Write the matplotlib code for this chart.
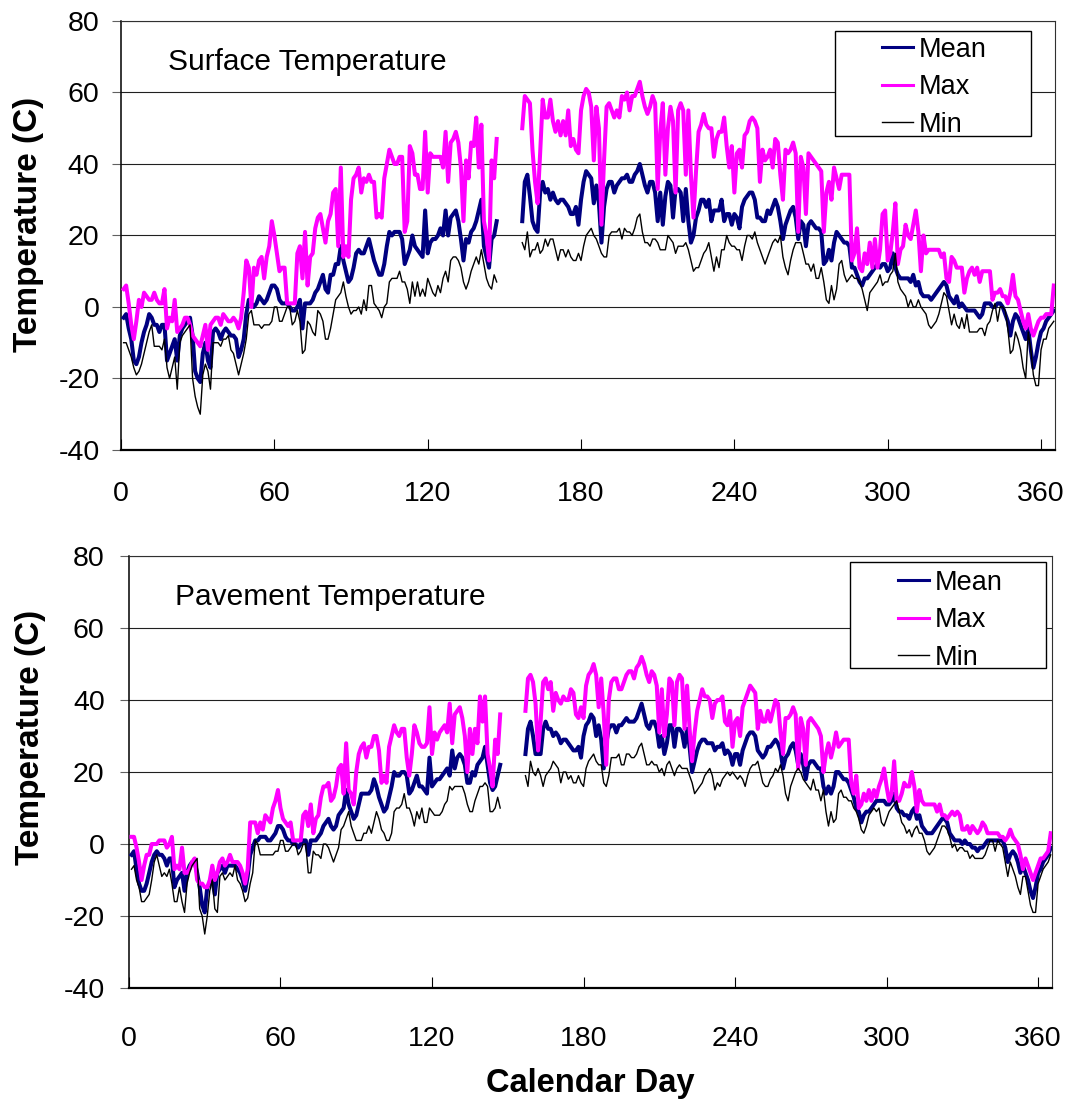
import numpy as np
import matplotlib.pyplot as plt
from matplotlib.lines import Line2D
from matplotlib.patches import Rectangle

plt.rcParams['font.family'] = ['Liberation Sans', 'DejaVu Sans']
plt.rcParams['axes.unicode_minus'] = False

# Daily temperatures (C). Part A covers days 1-147, part B days 157-365;
# days 148-156 have no record.
DAYS = np.arange(1, 366)

surf_max_a = [
    5, 6, 1, -5, -9, -4, 2, 0, 4, 3,
    2, 2, 4, 2, 1, 1, 5, -6, -3, -4,
    2, -7, -6, -5, -3, -3, -5, -8, -9, -10,
    -11, -8, -5, -12, -5, -4, -3, -3, -5, -2,
    -3, -4, -4, -3, -4, -6, -3, 4, 13, 11,
    0, 11, 9, 13, 14, 8, 14, 17, 24, 20,
    15, 10, 11, 11, 1, 1, 1, 1, 15, 17,
    8, 21, 6, 14, 15, 22, 25, 26, 22, 18,
    24, 26, 32, 33, 17, 39, 14, 17, 14, 30,
    36, 37, 39, 32, 36, 35, 37, 35, 35, 25,
    26, 25, 36, 40, 44, 42, 40, 40, 42, 42,
    21, 24, 45, 43, 37, 37, 33, 33, 49, 32,
    43, 42, 42, 42, 42, 39, 49, 35, 46, 47,
    49, 46, 39, 24, 41, 36, 46, 45, 53, 39,
    51, 24, 20, 13, 41, 36, 47]
surf_max_b = [
    50, 59, 58, 57, 44, 35, 29, 43, 58, 53,
    53, 58, 52, 49, 52, 48, 52, 48, 55, 45,
    47, 44, 43, 55, 59, 61, 60, 56, 41, 56,
    50, 23, 41, 56, 57, 55, 53, 55, 53, 59,
    58, 60, 55, 59, 59, 61, 63, 59, 56, 54,
    56, 59, 57, 33, 49, 57, 37, 50, 56, 52,
    32, 55, 57, 55, 37, 55, 37, 25, 38, 49,
    51, 54, 51, 50, 50, 42, 47, 49, 49, 53,
    45, 39, 45, 32, 43, 44, 39, 48, 49, 52,
    53, 52, 50, 35, 44, 41, 42, 44, 39, 47,
    46, 37, 30, 44, 43, 44, 46, 43, 21, 42,
    39, 26, 43, 42, 41, 40, 39, 38, 21, 32,
    35, 30, 39, 36, 33, 37, 37, 37, 37, 13,
    15, 22, 11, 10, 15, 12, 18, 11, 19, 11,
    16, 26, 27, 13, 15, 21, 29, 12, 16, 17,
    23, 20, 19, 23, 27, 21, 10, 20, 15, 16,
    16, 16, 16, 16, 14, 15, 8, 7, 14, 13,
    11, 11, 11, 4, 8, 10, 11, 9, 11, 7,
    10, 10, 10, 10, 2, 4, 4, 5, 3, 3,
    1, 4, 9, 3, 2, -1, -4, -6, -2, -6,
    -8, -6, -4, -3, -3, -2, -2, -2, 6]

surf_mean_a = [
    -3, -2, -6, -9, -15, -16, -14, -10, -7, -5,
    -2, -3, -5, -5, -7, -5, -5, -15, -13, -11,
    -9, -15, -8, -6, -5, -4, -3, -8, -18, -20,
    -21, -13, -10, -15, -17, -7, -6, -7, -9, -7,
    -6, -7, -8, -8, -9, -14, -12, -9, -2, 2,
    1, 0, 1, 3, 2, 1, 2, 4, 6, 6,
    5, 2, 1, 1, 1, 0, -1, -1, 0, 2,
    -6, 1, 1, 1, 2, 4, 5, 7, 9, 5,
    4, 9, 9, 12, 12, 17, 13, 10, 7, 8,
    11, 15, 16, 15, 15, 17, 19, 16, 13, 11,
    9, 9, 12, 17, 21, 20, 21, 21, 21, 19,
    12, 14, 16, 20, 17, 16, 15, 14, 27, 15,
    18, 19, 19, 20, 22, 20, 27, 20, 25, 26,
    27, 24, 19, 13, 19, 18, 21, 22, 24, 27,
    30, 17, 14, 11, 19, 20, 24]
surf_mean_b = [
    24, 35, 37, 31, 24, 22, 21, 32, 35, 32,
    33, 30, 32, 30, 29, 30, 30, 29, 28, 26,
    26, 28, 23, 30, 35, 38, 37, 36, 29, 34,
    29, 18, 28, 33, 35, 35, 32, 34, 35, 36,
    36, 37, 35, 35, 37, 38, 40, 37, 34, 32,
    35, 35, 32, 24, 32, 23, 31, 35, 34, 25,
    33, 33, 32, 24, 33, 24, 18, 20, 25, 27,
    30, 30, 28, 30, 24, 27, 27, 27, 30, 24,
    26, 26, 23, 26, 25, 22, 28, 30, 31, 32,
    32, 30, 25, 25, 24, 24, 27, 26, 28, 30,
    28, 24, 19, 23, 25, 27, 28, 25, 19, 24,
    23, 17, 23, 24, 23, 22, 22, 21, 12, 13,
    16, 13, 18, 21, 20, 19, 18, 18, 17, 11,
    11, 9, 7, 6, 8, 8, 9, 10, 11, 12,
    11, 12, 12, 10, 11, 15, 11, 9, 8, 8,
    8, 8, 7, 9, 6, 7, 4, 3, 3, 3,
    2, 3, 4, 5, 6, 7, 6, 3, 2, 1,
    3, 0, 1, 0, -1, -1, -1, -1, -2, -3,
    -2, 1, 1, 1, 0, 0, 1, 1, 0, -2,
    -4, -8, -4, -2, -3, -5, -7, -9, -6, -12,
    -17, -14, -10, -7, -6, -4, -3, -2, -1]

surf_min_a = [
    -10, -10, -12, -14, -17, -19, -18, -16, -13, -10,
    -7, -5, -11, -11, -11, -12, -9, -17, -20, -17,
    -14, -23, -10, -8, -7, -6, -5, -20, -25, -28,
    -30, -19, -16, -18, -23, -10, -10, -10, -11, -9,
    -9, -8, -12, -13, -16, -19, -16, -13, -9, -2,
    -1, -5, -5, -5, -6, -5, -5, -5, -4, 0,
    0, -4, -4, -2, 0, 0, -5, -4, -1, -4,
    -13, -12, -4, -5, -7, -8, -1, -2, -4, -9,
    -9, -6, -2, 2, 3, 4, 7, 3, 0, -2,
    -1, -1, 0, -2, 2, -1, 6, 6, 1, 0,
    -1, -3, 0, 1, 7, 8, 8, 8, 10, 7,
    7, 5, 1, 7, 3, 7, 3, 5, 3, 8,
    6, 4, 3, 6, 4, 8, 10, 7, 13, 14,
    14, 13, 11, 7, 5, 7, 10, 12, 14, 12,
    16, 12, 8, 6, 5, 9, 7]
surf_min_b = [
    18, 16, 21, 14, 16, 16, 18, 15, 16, 19,
    17, 19, 19, 16, 13, 16, 16, 14, 16, 14,
    13, 13, 15, 13, 17, 20, 21, 22, 20, 19,
    17, 15, 14, 14, 20, 21, 21, 21, 22, 19,
    22, 21, 21, 20, 22, 25, 26, 21, 18, 18,
    17, 19, 19, 18, 16, 16, 16, 20, 19, 18,
    15, 17, 17, 17, 18, 16, 13, 10, 11, 11,
    13, 15, 16, 18, 14, 10, 14, 11, 16, 16,
    20, 18, 17, 17, 16, 16, 13, 17, 20, 20,
    19, 21, 18, 16, 14, 12, 14, 16, 18, 19,
    18, 20, 14, 11, 9, 13, 16, 18, 18, 18,
    15, 12, 12, 10, 12, 8, 8, 11, 7, 2,
    1, 6, 2, 5, 12, 13, 9, 7, 8, 9,
    8, 8, 7, 5, 2, -1, 4, 5, 6, 7,
    9, 6, 7, 7, 9, 10, 15, 7, 5, 4,
    3, 0, 2, 0, 0, 2, 0, -1, -2, -5,
    -6, -5, -4, -2, 1, 4, 3, -1, -5, -2,
    -5, -6, -3, -6, -2, -7, -7, -7, -7, -6,
    -6, -8, -5, -4, -1, 1, -4, 0, 0, -1,
    -6, -13, -12, -7, -9, -12, -17, -20, -7, -12,
    -19, -22, -22, -12, -9, -9, -6, -5, -4]

pave_max_a = [
    2, 2, -1, -5, -10, -6, -3, -3, 0, 0,
    0, 1, 1, 1, -1, 0, 2, -7, -6, -7,
    -1, -8, -8, -7, -5, -4, -10, -11, -11, -12,
    -12, -10, -6, -10, -8, -5, -4, -6, -5, -3,
    -5, -5, -5, -6, -8, -11, -7, 6, 6, 6,
    3, 6, 4, 8, 7, 6, 10, 12, 15, 10,
    7, 6, 5, 6, 1, 1, 1, 1, 8, 9,
    5, 11, 3, 7, 8, 13, 16, 16, 17, 12,
    13, 16, 21, 22, 14, 28, 15, 14, 11, 20,
    25, 27, 28, 24, 27, 27, 30, 30, 26, 17,
    19, 17, 27, 30, 33, 31, 30, 32, 32, 24,
    19, 25, 33, 31, 28, 27, 27, 28, 38, 25,
    31, 29, 31, 32, 33, 31, 39, 28, 36, 37,
    38, 35, 30, 20, 32, 25, 32, 28, 41, 34,
    41, 25, 21, 16, 29, 25, 36]
pave_max_b = [
    37, 46, 47, 45, 39, 26, 34, 45, 46, 43,
    45, 37, 42, 40, 39, 41, 40, 40, 43, 42,
    36, 35, 38, 35, 44, 47, 48, 50, 47, 38,
    46, 36, 22, 40, 45, 46, 46, 43, 43, 45,
    47, 48, 48, 46, 49, 50, 52, 50, 47, 45,
    48, 47, 44, 31, 43, 30, 36, 46, 45, 33,
    45, 47, 46, 32, 44, 32, 23, 31, 37, 40,
    43, 41, 41, 40, 35, 39, 40, 40, 41, 34,
    33, 37, 27, 34, 35, 30, 38, 40, 42, 44,
    43, 42, 32, 37, 34, 34, 37, 34, 37, 40,
    39, 31, 25, 35, 35, 36, 38, 36, 21, 35,
    32, 22, 34, 35, 34, 33, 32, 30, 20, 25,
    28, 24, 27, 31, 27, 28, 29, 29, 29, 17,
    14, 19, 10, 11, 14, 12, 15, 12, 15, 13,
    16, 18, 21, 16, 12, 14, 23, 12, 12, 14,
    17, 16, 16, 20, 16, 9, 15, 12, 11, 11,
    11, 11, 11, 9, 11, 8, 8, 7, 8, 9,
    8, 9, 8, 4, 4, 5, 3, 5, 4, 3,
    4, 6, 5, 3, 3, 3, 3, 3, 2, 2,
    1, 2, 4, 2, 1, 0, -3, -7, -4, -6,
    -8, -10, -8, -6, -4, -4, -3, -2, 3]

pave_mean_a = [
    -3, -2, -7, -11, -13, -13, -11, -8, -5, -3,
    -2, -3, -3, -4, -6, -4, -4, -12, -10, -9,
    -8, -13, -8, -6, -5, -5, -8, -12, -17, -19,
    -12, -11, -10, -14, -8, -7, -6, -8, -6, -6,
    -6, -6, -7, -8, -10, -13, -9, -3, -1, 1,
    1, 2, 2, 2, 1, 1, 2, 3, 5, 5,
    4, 2, 1, 1, 0, 0, -1, 0, 1, 1,
    -3, 1, 1, 1, 2, 3, 5, 6, 7, 5,
    4, 5, 8, 9, 10, 15, 11, 9, 7, 8,
    11, 14, 14, 14, 14, 15, 18, 16, 13, 11,
    9, 10, 13, 16, 20, 19, 19, 20, 20, 19,
    14, 15, 17, 19, 16, 16, 15, 14, 24, 16,
    17, 18, 18, 19, 20, 21, 19, 26, 21, 24,
    25, 24, 22, 17, 17, 20, 19, 22, 23, 24,
    27, 22, 17, 15, 16, 19, 22]
pave_mean_b = [
    25, 32, 34, 30, 25, 25, 25, 32, 34, 32,
    32, 30, 31, 30, 28, 29, 29, 28, 27, 26,
    26, 27, 24, 30, 33, 34, 36, 35, 30, 33,
    29, 21, 28, 32, 33, 33, 31, 33, 33, 34,
    35, 34, 34, 34, 35, 37, 39, 36, 33, 32,
    34, 34, 32, 27, 30, 25, 28, 33, 33, 27,
    32, 32, 31, 27, 32, 27, 20, 23, 26, 28,
    29, 29, 28, 28, 28, 26, 27, 27, 28, 25,
    26, 25, 22, 25, 25, 22, 26, 28, 30, 31,
    31, 30, 26, 25, 24, 25, 27, 27, 28, 29,
    28, 26, 21, 24, 25, 27, 28, 26, 22, 25,
    22, 18, 22, 23, 23, 22, 21, 21, 16, 14,
    16, 14, 16, 20, 20, 19, 18, 18, 17, 15,
    13, 10, 9, 6, 8, 9, 9, 10, 11, 12,
    12, 12, 12, 11, 11, 12, 14, 10, 9, 9,
    8, 8, 7, 9, 10, 7, 8, 5, 4, 3,
    3, 3, 4, 5, 6, 7, 7, 6, 3, 2,
    1, 1, 1, 0, 1, 0, 0, -1, -1, -2,
    -1, -1, 0, 1, 1, 1, 1, 1, 1, 1,
    -1, -5, -3, -2, -3, -5, -8, -6, -8, -10,
    -13, -15, -12, -8, -7, -5, -4, -3, -1]

pave_min_a = [
    -7, -6, -10, -12, -16, -16, -15, -14, -10, -5,
    -3, -6, -9, -8, -9, -7, -11, -16, -16, -12,
    -16, -19, -11, -8, -6, -5, -4, -18, -20, -25,
    -20, -13, -10, -18, -19, -9, -8, -10, -9, -8,
    -9, -6, -10, -11, -13, -16, -15, -11, -8, 1,
    0, -3, -3, -3, -3, -3, -3, -2, -2, 1,
    1, -2, -2, -1, 0, 0, -3, -2, 0, 0,
    -8, -8, -2, -3, -3, -4, 0, 0, -1, -3,
    -5, -3, -1, 4, 5, 7, 9, 5, 3, 1,
    1, 1, 3, 3, 5, 3, 6, 9, 7, 4,
    3, 1, 1, 3, 9, 10, 10, 11, 14, 10,
    10, 8, 5, 9, 7, 10, 6, 6, 10, 9,
    8, 8, 8, 9, 11, 12, 16, 15, 16, 16,
    16, 16, 14, 11, 9, 9, 12, 14, 16, 16,
    17, 16, 9, 9, 10, 13, 10]
pave_min_b = [
    19, 16, 23, 20, 19, 21, 19, 16, 19, 20,
    21, 23, 22, 21, 17, 20, 20, 18, 19, 17,
    17, 19, 17, 16, 21, 23, 24, 25, 23, 22,
    22, 17, 16, 19, 24, 24, 24, 25, 22, 22,
    25, 25, 24, 24, 25, 27, 28, 25, 22, 22,
    23, 22, 22, 20, 21, 19, 22, 23, 21, 19,
    21, 22, 21, 21, 21, 19, 17, 14, 15, 16,
    17, 19, 20, 21, 19, 15, 17, 16, 18, 19,
    20, 19, 20, 19, 18, 19, 18, 16, 19, 21,
    22, 22, 23, 20, 17, 16, 16, 18, 19, 21,
    20, 22, 19, 14, 12, 16, 18, 20, 21, 20,
    18, 17, 16, 15, 18, 15, 15, 12, 15, 9,
    5, 9, 6, 7, 14, 15, 13, 13, 12, 12,
    10, 9, 7, 4, 3, 5, 8, 9, 10, 9,
    10, 6, 5, 7, 9, 10, 11, 12, 9, 6,
    5, 3, 4, 2, 4, 5, 3, 3, 1, -2,
    -3, -2, -1, 1, 3, 5, 5, 4, 2, -1,
    0, -2, -1, -1, -2, -2, -4, -3, -4, -4,
    -4, -4, -3, -1, 1, 1, -2, 1, 0, -1,
    -5, -9, -5, -7, -9, -12, -14, -9, -9, -13,
    -17, -19, -19, -11, -9, -7, -6, -5, -3]

SERIES_LABELS = ['Mean', 'Max', 'Min']
SERIES_COLORS = ['#000080', '#FF00FF', '#000000']
SERIES_WIDTHS = [2.9, 2.9, 1.0]


def join_year(part_a, part_b):
    assert len(part_a) == 147 and len(part_b) == 209
    gap = [np.nan] * 9
    return np.array(part_a + gap + part_b, dtype=float)


def draw_panel(ax, title, series, legend_box, legend_anchor, xpad, ypad):
    for vals, lab, col, lw in zip(series, SERIES_LABELS, SERIES_COLORS, SERIES_WIDTHS):
        ax.plot(DAYS, vals, color=col, lw=lw, label=lab, zorder=3)

    ax.set_xlim(0, 365.5)
    ax.set_ylim(-40, 80)
    ax.set_xticks(range(0, 361, 60))
    ax.set_yticks(range(-40, 81, 20))
    ax.yaxis.grid(True, color='#202020', lw=0.8)
    ax.set_axisbelow(True)

    ax.tick_params(axis='x', direction='in', length=8, width=0.8,
                   labelsize=20.5, pad=xpad)
    ax.tick_params(axis='y', direction='out', length=6.5, width=0.8,
                   color='#606060', labelsize=20.5, pad=ypad)
    for side in ('top', 'right'):
        ax.spines[side].set_color('#303030')
        ax.spines[side].set_linewidth(0.8)
    ax.spines['left'].set_linewidth(1.1)
    ax.spines['bottom'].set_linewidth(1.6)

    ax.set_ylabel('Temperature (C)', fontsize=24, fontweight='bold')
    ax.text(0.05, 0.905, title, transform=ax.transAxes, fontsize=21.5,
            va='center', ha='left')

    # legend: a plain boxed key drawn over the grid
    bx, by, bw, bh = legend_box
    ax.add_patch(Rectangle((bx, by), bw, bh, transform=ax.transAxes,
                           facecolor='white', edgecolor='black', lw=1.0,
                           zorder=5))
    handles = [Line2D([], [], color=c, lw=w)
               for c, w in zip(SERIES_COLORS, [2.2, 2.2, 1.0])]
    leg = ax.legend(handles, SERIES_LABELS, loc='upper left',
                    bbox_to_anchor=legend_anchor, frameon=False,
                    fontsize=19.5, handlelength=1.15, handletextpad=0.2,
                    labelspacing=0.42, borderpad=0, borderaxespad=0)
    leg.set_zorder(6)


fig = plt.figure(figsize=(10.73, 11.11), dpi=100)
ax_top = fig.add_axes([0.1128, 0.595, 0.8705, 0.3861])
ax_bot = fig.add_axes([0.1202, 0.1107, 0.8602, 0.3888])

draw_panel(ax_top, 'Surface Temperature',
           [join_year(surf_mean_a, surf_mean_b),
            join_year(surf_max_a, surf_max_b),
            join_year(surf_min_a, surf_min_b)],
           (0.7645, 0.732, 0.2099, 0.2448), (0.815, 0.963), 22, 9)
ax_top.yaxis.set_label_coords(-0.082, 0.525)

draw_panel(ax_bot, 'Pavement Temperature',
           [join_year(pave_mean_a, pave_mean_b),
            join_year(pave_max_a, pave_max_b),
            join_year(pave_min_a, pave_min_b)],
           (0.781, 0.7407, 0.2124, 0.2454), (0.833, 0.968), 27, 11)
ax_bot.yaxis.set_label_coords(-0.09, 0.58)

fig.text(0.55, 0.025, 'Calendar Day', fontsize=23.5, fontweight='bold',
         ha='center', va='center')

fig.savefig('out.png', dpi=100)
